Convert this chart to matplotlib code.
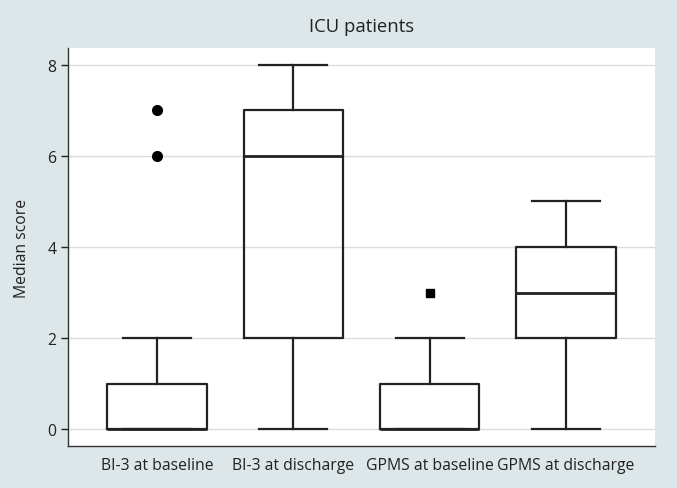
import matplotlib
matplotlib.use("Agg")
import matplotlib.pyplot as plt

categories = ["BI-3 at baseline", "BI-3 at discharge", "GPMS at baseline", "GPMS at discharge"]
whislo = [0, 0, 0, 0]
q1 = [0, 2, 0, 2]
med = [0, 6, 0, 3]
q3 = [1, 7, 1, 4]
whishi = [2, 8, 2, 5]
fliers = [[6, 7], [], [3], []]
flier_markers = ["o", "o", "s", "o"]
yticks = [0, 2, 4, 6, 8]

plt.rcParams['font.family'] = ['Open Sans', 'DejaVu Sans']
bg = "#DDE6E8"
fig = plt.figure(figsize=(6.77, 4.89), dpi=100, facecolor=bg)
ax = fig.add_axes([0.1004, 0.0859, 0.8671, 0.8139])
ax.set_facecolor("white")

for y in yticks:
    ax.axhline(y, color="#DCDCDC", lw=1.0, zorder=0)

stats = []
for i, c in enumerate(categories):
    stats.append(dict(label=c, whislo=whislo[i], q1=q1[i], med=med[i], q3=q3[i],
                      whishi=whishi[i], fliers=[]))
lp = dict(color="#222222", lw=1.6)
ax.bxp(stats, positions=range(1, 5), widths=0.73, showfliers=False,
       boxprops=lp, whiskerprops=lp, capprops=lp,
       medianprops=dict(color="#222222", lw=2.0), capwidths=0.5)
for i, f in enumerate(fliers):
    if f:
        ax.plot([i + 1] * len(f), f, linestyle="none", marker=flier_markers[i],
                color="black", markersize=7 if flier_markers[i] == "o" else 6, zorder=3)

ax.set_xlim(1 - 0.652, 4 + 0.652)
ax.set_ylim(-0.37, 8.37)
ax.set_yticks(yticks)
ax.set_yticklabels([str(v) for v in yticks])
ax.set_xticks(range(1, 5))
ax.set_xticklabels(categories)
ax.tick_params(axis="x", length=0, labelsize=11.3, pad=8, colors="#222222")
ax.tick_params(axis="y", length=5, labelsize=11.3, width=1, colors="#222222")
for s in ["top", "right"]:
    ax.spines[s].set_visible(False)
for s in ["left", "bottom"]:
    ax.spines[s].set_color("#333333")
    ax.spines[s].set_linewidth(1.0)
ax.set_ylabel("Median score", fontsize=11.3, labelpad=12, color="#222222")
ax.set_title("ICU patients", fontsize=13.3, pad=12, color="#222222")

fig.savefig("out.png", dpi=100, facecolor=bg)
